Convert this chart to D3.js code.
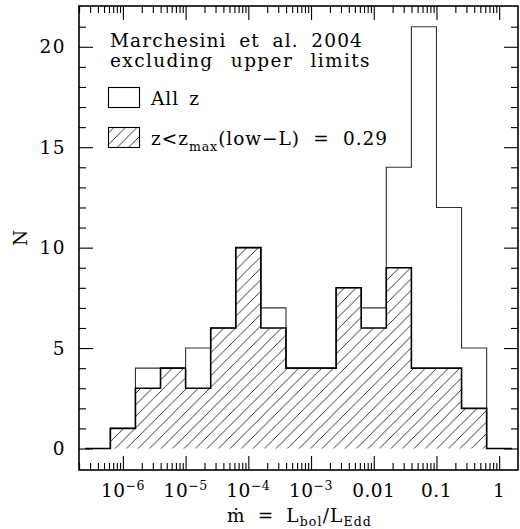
<!DOCTYPE html>
<html>
<head>
<meta charset="utf-8">
<script src="https://cdn.jsdelivr.net/npm/d3@7"></script>
<style>
  body { margin: 0; background: #fff; }
  text { font-family: "DejaVu Serif", serif; fill: #000; }
</style>
</head>
<body>
<script>
'use strict';

const width = 520;
const height = 529;
const padLeft = 79, padRight = 518, padTop = 6, padBottom = 470;

// bin edges in log10(mdot), 0.4 dex wide
let binEdges = [-6.6, -6.2, -5.8, -5.4, -5.0, -4.6, -4.2, -3.8, -3.4, -3.0, -2.6, -2.2, -1.8, -1.4, -1.0, -0.6, -0.2, 0.2];
let allZ = [0, 1, 4, 4, 5, 6, 10, 7, 4, 4, 8, 7, 14, 21, 12, 5, 0];
let lowZ = [0, 1, 3, 4, 3, 6, 10, 6, 4, 4, 8, 6, 9, 4, 4, 2, 0];

let xMajor = [1e-6, 1e-5, 1e-4, 1e-3, 0.01, 0.1, 1];
let xLabels = [['10', '−6'], ['10', '−5'], ['10', '−4'], ['10', '−3'], ['0.01', ''], ['0.1', ''], ['1', '']];
let yMajor = [0, 5, 10, 15, 20];

let svg = d3.select("body").append("svg").attr('width', width).attr('height', height);

let xScale = d3.scaleLog().domain([Math.pow(10, -6.7), Math.pow(10, 0.3)]).range([padLeft, padRight]);
let yScale = d3.scaleLinear().domain([-1.07, 22.03]).range([padBottom, padTop]);

// hatch pattern
svg.append("defs").append("pattern")
    .attr("id", "hatch")
    .attr("patternUnits", "userSpaceOnUse")
    .attr("width", 11.5).attr("height", 11.5)
    .append("path")
    .attr("d", "M0,11.5 L11.5,0 M-2.875,2.875 L2.875,-2.875 M8.625,14.375 L14.375,8.625")
    .attr("stroke", "#000").attr("stroke-width", 0.8);

function stepPoints(counts) {
    let pts = counts.map((c, i) => [binEdges[i], c]);
    pts.push([binEdges[binEdges.length - 1], counts[counts.length - 1]]);
    return pts;
}

let area = d3.area()
    .curve(d3.curveStepAfter)
    .x(d => xScale(Math.pow(10, d[0])))
    .y0(yScale(0))
    .y1(d => yScale(d[1]));

let line = d3.line()
    .curve(d3.curveStepAfter)
    .x(d => xScale(Math.pow(10, d[0])))
    .y(d => yScale(d[1]));

svg.append("path").attr("d", area(stepPoints(lowZ))).attr("fill", "url(#hatch)");
svg.append("path").attr("d", line(stepPoints(allZ)))
    .attr("fill", "none").attr("stroke", "#333").attr("stroke-width", 1.1);
svg.append("path").attr("d", line(stepPoints(lowZ)))
    .attr("fill", "none").attr("stroke", "#000").attr("stroke-width", 1.6);

// axes: ticks on all four sides
let xMinor = xScale.ticks().filter(t => !xMajor.some(m => Math.abs(m - t) / m < 1e-6));
let yMinor = d3.range(0, 22).filter(v => v % 5 !== 0);

function addTicks(axisFn, scale, values, size, transform) {
    svg.append("g")
        .attr("transform", transform)
        .call(axisFn(scale).tickValues(values).tickSize(size).tickFormat(""))
        .call(g => g.select(".domain").remove())
        .call(g => g.selectAll("line").attr("stroke", "#000").attr("stroke-width", 1.1));
}

addTicks(d3.axisTop, xScale, xMajor, 14, `translate(0,${padBottom})`);
addTicks(d3.axisTop, xScale, xMinor, 7, `translate(0,${padBottom})`);
addTicks(d3.axisBottom, xScale, xMajor, 14, `translate(0,${padTop})`);
addTicks(d3.axisBottom, xScale, xMinor, 7, `translate(0,${padTop})`);
addTicks(d3.axisRight, yScale, yMajor, 14, `translate(${padLeft},0)`);
addTicks(d3.axisRight, yScale, yMinor, 7, `translate(${padLeft},0)`);
addTicks(d3.axisLeft, yScale, yMajor, 14, `translate(${padRight},0)`);
addTicks(d3.axisLeft, yScale, yMinor, 7, `translate(${padRight},0)`);

svg.append("rect")
    .attr("x", padLeft).attr("y", padTop)
    .attr("width", padRight - padLeft).attr("height", padBottom - padTop)
    .attr("fill", "none").attr("stroke", "#000").attr("stroke-width", 1.6);

// widen a line to the given width: part between letters, part between words
function fitWords(sel, len) {
    let natural = sel.node().getComputedTextLength();
    let str = sel.text();
    let gaps = str.split(' ').length - 1;
    let extra = len - natural;
    let ls = 0.6 * extra / str.length;
    sel.attr("letter-spacing", ls);
    if (gaps > 0) sel.attr("word-spacing", 0.4 * extra / gaps);
    return sel;
}

// tick labels
xMajor.forEach((v, i) => {
    let t = svg.append("text")
        .attr("x", xScale(v)).attr("y", 497)
        .attr("text-anchor", "middle")
        .attr("font-size", 18.5)
        .attr("letter-spacing", 0.5);
    t.append("tspan").text(xLabels[i][0]);
    if (xLabels[i][1]) {
        t.append("tspan").attr("dy", -7.5).attr("font-size", 12.5).text(xLabels[i][1]);
    }
});

yMajor.forEach(v => {
    svg.append("text")
        .attr("x", 66).attr("y", yScale(v) + 6.5)
        .attr("text-anchor", "end")
        .attr("font-size", 18.5)
        .attr("letter-spacing", 1.5)
        .text(v);
});

svg.append("text")
    .attr("transform", "translate(27,238) rotate(-90)")
    .attr("text-anchor", "middle")
    .attr("font-size", 18.5)
    .text("N");

let xt = svg.append("text")
    .attr("x", 227).attr("y", 522)
    .attr("font-size", 18.5);
xt.append("tspan").text("ṁ = L");
xt.append("tspan").attr("dy", 4).attr("font-size", 12.5).text("bol");
xt.append("tspan").attr("dy", -4).text("/L");
xt.append("tspan").attr("dy", 4).attr("font-size", 12.5).text("Edd");
fitWords(xt, 145);

// legend
function legendText(x, y, len, str) {
    let t = svg.append("text").attr("x", x).attr("y", y)
        .attr("font-size", 18.5)
        .text(str);
    return fitWords(t, len);
}

legendText(110, 47, 253, "Marchesini et al. 2004");
legendText(110, 67, 261, "excluding upper limits");

svg.append("rect").attr("x", 108.5).attr("y", 87.5).attr("width", 31).attr("height", 20)
    .attr("fill", "none").attr("stroke", "#000").attr("stroke-width", 1.1);
legendText(151, 105, 49, "All z");

svg.append("rect").attr("x", 108.5).attr("y", 127.5).attr("width", 31).attr("height", 20)
    .attr("fill", "url(#hatch)").attr("stroke", "#000").attr("stroke-width", 1.1);
let lt = svg.append("text").attr("x", 151).attr("y", 145).attr("font-size", 18.5);
lt.append("tspan").text("z<z");
lt.append("tspan").attr("dy", 6).attr("font-size", 12.5).text("max");
lt.append("tspan").attr("dy", -6).text("(low−L) = 0.29");
fitWords(lt, 237);
</script>
</body>
</html>
